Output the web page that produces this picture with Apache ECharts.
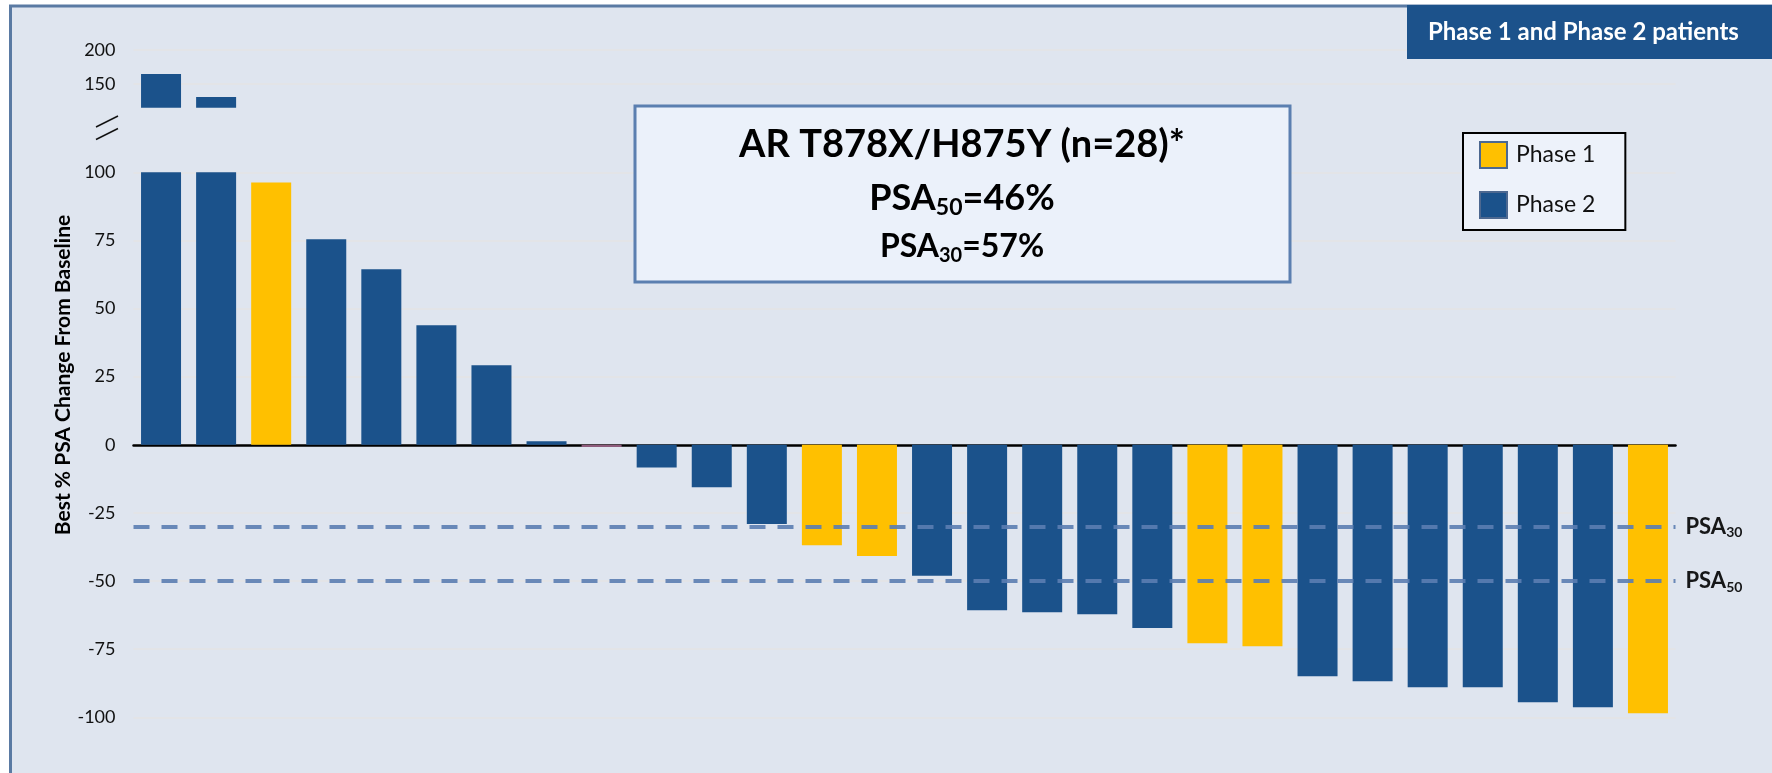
<!DOCTYPE html>
<html>
<head>
<meta charset="utf-8">
<script src="https://cdn.jsdelivr.net/npm/echarts@6/dist/echarts.min.js"></script>
<style>
  html, body { margin: 0; padding: 0; background: #ffffff; }
  #chart { width: 1772px; height: 773px; }
</style>
</head>
<body>
<div id="chart"></div>
<script>
// Best PSA change from baseline per patient, sorted (waterfall)
const patients = Array.from({ length: 28 }, (_, i) => 'P' + (i + 1));
const phases = [2, 2, 1, 2, 2, 2, 2, 2, 2, 2, 2, 2, 1, 1, 2, 2, 2, 2, 2, 1, 1, 2, 2, 2, 2, 2, 2, 1];
const psaChange = [164.7, 131, 96.3, 75.4, 64.4, 43.9, 29.2, 1.3, -0.8, -8.3, -15.6, -29.1, -36.9, -40.8,
  -48.1, -60.7, -61.5, -62.2, -67.2, -72.8, -73.9, -84.9, -86.8, -89.0, -89.0, -94.5, -96.3, -98.5];
const upperTicks = [150, 200];
const thresholds = [-30, -50];
const thresholdSubs = ['30', '50'];
const phaseNames = ['Phase 1', 'Phase 2'];
const phaseColors = { 1: '#ffc000', 2: '#1b528b' };
const summaryTitle = 'AR T878X/H875Y (n=28)*';
const summaryLines = [['PSA', '50', '=46%'], ['PSA', '30', '=57%']];

const FONT = 'Lato, "Open Sans", sans-serif';
const chart = echarts.init(document.getElementById('chart'), null, { renderer: 'canvas' });

function phaseData(p) {
  return psaChange.map((v, i) => {
    if (phases[i] !== p) return '-';
    if (i === 8) return { value: v, itemStyle: { color: '#8e5c7c' } };
    return v;
  });
}

const gridLeft = 133.5, gridRight = 96.5;
const splitStyle = { show: true, lineStyle: { color: '#e3e4e7', width: 2 } };
const labelStyle = { color: '#111', fontSize: 18, fontFamily: FONT, margin: 18 };

const series = [];
[0, 1].forEach(g => {
  [1, 2].forEach(p => {
    const s = {
      name: phaseNames[p - 1],
      type: 'bar',
      xAxisIndex: g,
      yAxisIndex: g,
      data: phaseData(p),
      barWidth: 40,
      barGap: '-100%',
      clip: true,
      silent: true,
      itemStyle: { color: phaseColors[p] }
    };
    if (g === 1 && p === 2) {
      s.markLine = {
        silent: true,
        symbol: 'none',
        lineStyle: { color: '#5b7db1', width: 4, type: [16, 12], opacity: 0.9 },
        label: {
          show: true,
          position: 'end',
          distance: 10,
          formatter: (prm) => '{b|PSA}{s|' + thresholdSubs[thresholds.indexOf(prm.value)] + '}',
          rich: {
            b: { fontSize: 22, fontWeight: 'bold', fontFamily: FONT, color: '#000' },
            s: { fontSize: 14, fontWeight: 'bold', fontFamily: FONT, color: '#000', padding: [12, 0, 0, 0] }
          }
        },
        data: thresholds.map(t => ({ yAxis: t }))
      };
    }
    series.push(s);
  });
});

const option = {
  backgroundColor: '#ffffff',
  animation: false,
  title: {
    text: 'Phase 1 and Phase 2 patients',
    left: 1407, top: 5,
    backgroundColor: '#1c528b',
    padding: [13, 80, 13, 21],
    textStyle: { color: '#ffffff', fontSize: 24, fontWeight: 'bold', fontFamily: FONT, lineHeight: 28 }
  },
  legend: {
    data: phaseNames,
    orient: 'vertical',
    left: 1463, top: 133,
    backgroundColor: '#edf2fa',
    borderColor: '#000000',
    borderWidth: 2,
    padding: [8, 30, 11, 16],
    itemWidth: 27, itemHeight: 26, itemGap: 22,
    icon: 'rect',
    itemStyle: { borderColor: '#4c6890', borderWidth: 2 },
    textStyle: { color: '#111', fontSize: 23, fontFamily: FONT, padding: [0, 0, 0, 4] }
  },
  grid: [
    { left: gridLeft, right: gridRight, top: 50, height: 57.8, outerBoundsMode: 'none', containLabel: false },
    { left: gridLeft, right: gridRight, top: 172.3, height: 613.1, outerBoundsMode: 'none', containLabel: false }
  ],
  xAxis: [
    { type: 'category', gridIndex: 0, data: patients, show: false },
    {
      type: 'category', gridIndex: 1, data: patients,
      axisLine: { show: true, onZero: true, lineStyle: { color: '#000', width: 2.5 } },
      axisTick: { show: false }, axisLabel: { show: false }, splitLine: { show: false }
    }
  ],
  yAxis: [
    {
      type: 'value', gridIndex: 0, min: 115, max: 200,
      axisLine: { show: false },
      axisTick: { show: false, customValues: upperTicks },
      axisLabel: Object.assign({ customValues: upperTicks }, labelStyle),
      splitLine: splitStyle
    },
    {
      type: 'value', gridIndex: 1, min: -125, max: 100, interval: 25,
      axisLine: { show: false },
      axisTick: { show: false },
      axisLabel: labelStyle,
      splitLine: splitStyle
    }
  ],
  graphic: [
    // panel background with left and top edges
    {
      type: 'rect', z: -10, silent: true,
      shape: { x: 10.5, y: 6, width: 1800, height: 800 },
      style: { fill: '#dfe5ef' }
    },
    { type: 'line', z: -9, silent: true, shape: { x1: 10.5, y1: 6, x2: 10.5, y2: 800 }, style: { stroke: '#5a7aa3', lineWidth: 3 } },
    { type: 'line', z: -9, silent: true, shape: { x1: 9, y1: 6, x2: 1800, y2: 6 }, style: { stroke: '#5a7aa3', lineWidth: 3 } },
    // axis break marks
    { type: 'line', z: 5, shape: { x1: 96, y1: 127, x2: 118, y2: 116 }, style: { stroke: '#111', lineWidth: 1.5 } },
    { type: 'line', z: 5, shape: { x1: 96, y1: 139.5, x2: 118, y2: 128.5 }, style: { stroke: '#111', lineWidth: 1.5 } },
    // y-axis title
    {
      type: 'text', z: 5, x: 63, y: 375, rotation: Math.PI / 2,
      style: {
        text: 'Best % PSA Change From Baseline', fontSize: 21, fontWeight: 'bold',
        fontFamily: FONT, fill: '#000', align: 'center', verticalAlign: 'middle'
      }
    },
    // summary box
    {
      type: 'rect', z: 10,
      shape: { x: 635, y: 106, width: 655, height: 176 },
      style: { fill: '#ebf1fa', stroke: '#5b7fb0', lineWidth: 3 }
    },
    {
      type: 'text', z: 11, x: 962, y: 145,
      style: {
        text: summaryTitle, fontSize: 38, fontWeight: 'bold', fontFamily: FONT,
        fill: '#000', align: 'center', verticalAlign: 'middle'
      }
    },
    {
      type: 'text', z: 11, x: 962, y: 198,
      style: {
        text: '{m|' + summaryLines[0][0] + '}{s|' + summaryLines[0][1] + '}{m|' + summaryLines[0][2] + '}',
        align: 'center', verticalAlign: 'middle',
        rich: {
          m: { fontSize: 36, fontWeight: 'bold', fontFamily: FONT, fill: '#000' },
          s: { fontSize: 23, fontWeight: 'bold', fontFamily: FONT, fill: '#000', padding: [20, 0, 0, 0] }
        }
      }
    },
    {
      type: 'text', z: 11, x: 962, y: 247,
      style: {
        text: '{m|' + summaryLines[1][0] + '}{s|' + summaryLines[1][1] + '}{m|' + summaryLines[1][2] + '}',
        align: 'center', verticalAlign: 'middle',
        rich: {
          m: { fontSize: 32, fontWeight: 'bold', fontFamily: FONT, fill: '#000' },
          s: { fontSize: 20, fontWeight: 'bold', fontFamily: FONT, fill: '#000', padding: [18, 0, 0, 0] }
        }
      }
    }
  ],
  series: series
};

chart.setOption(option);
</script>
</body>
</html>
